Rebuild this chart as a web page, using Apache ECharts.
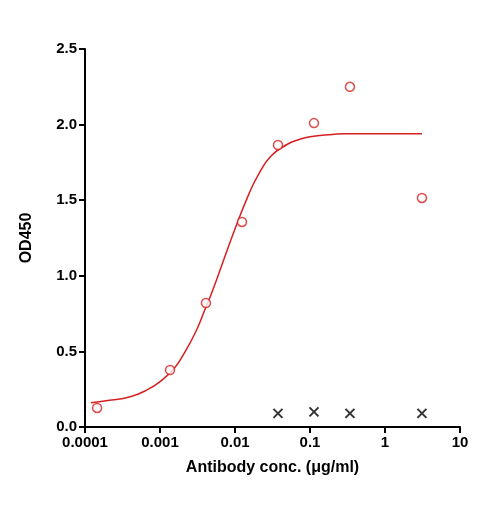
<!DOCTYPE html>
<html><head><meta charset="utf-8">
<script src="https://cdn.jsdelivr.net/npm/echarts@6/dist/echarts.min.js"></script>
<style>html,body{margin:0;padding:0;background:#fff}#c{width:485px;height:508px}</style>
</head><body><div id="c"></div>
<script>
const conc = [0.000145, 0.00136, 0.0041, 0.0124, 0.0374, 0.113, 0.341, 3.11];
const od = [0.126, 0.377, 0.82, 1.356, 1.865, 2.01, 2.25, 1.515];
const negConc = [0.0374, 0.113, 0.341, 3.11];
const negOd = [0.09, 0.10, 0.09, 0.09];
const curveX = [0.00012, 0.0002, 0.0004, 0.0007, 0.001, 0.0015, 0.002, 0.003, 0.004, 0.005, 0.007, 0.01, 0.015, 0.02, 0.03, 0.05, 0.07, 0.1, 0.2, 0.3, 0.5, 1, 3.11];
const curveY = [0.16, 0.175, 0.2, 0.25, 0.3, 0.38, 0.47, 0.63, 0.78, 0.9, 1.1, 1.31, 1.53, 1.66, 1.79, 1.87, 1.9, 1.92, 1.935, 1.94, 1.94, 1.94, 1.94];
const xTicks = [0.0001, 0.001, 0.01, 0.1, 1, 10];
const font = 'Liberation Sans, Arial, sans-serif';
const chart = echarts.init(document.getElementById('c'));
chart.setOption({
  animation: false,
  grid: {left: 85, right: 25, top: 49, bottom: 81},
  xAxis: {
    type: 'log', logBase: 10, min: xTicks[0], max: xTicks[xTicks.length-1],
    name: 'Antibody conc. (μg/ml)', nameLocation: 'middle', nameGap: 33,
    nameTextStyle: {fontFamily: font, fontWeight: 'bold', fontSize: 16, color: '#000'},
    axisLine: {lineStyle: {color: '#000', width: 2}},
    axisTick: {show: true, length: 6, lineStyle: {color: '#000', width: 2}},
    axisLabel: {fontFamily: font, fontWeight: 'bold', fontSize: 15, color: '#000',
      formatter: v => { const r = xTicks.find(t => Math.abs(Math.log10(t) - Math.log10(v)) < 1e-6); return r !== undefined ? String(r) : ''; }},
    splitLine: {show: false}
  },
  yAxis: {
    type: 'value', min: 0, max: 2.5, interval: 0.5,
    name: 'OD450', nameLocation: 'middle', nameGap: 50,
    nameTextStyle: {fontFamily: font, fontWeight: 'bold', fontSize: 16, color: '#000'},
    axisLine: {show: true, lineStyle: {color: '#000', width: 2}},
    axisTick: {show: true, length: 6, lineStyle: {color: '#000', width: 2}},
    axisLabel: {fontFamily: font, fontWeight: 'bold', fontSize: 15, color: '#000', formatter: v => v.toFixed(1)},
    splitLine: {show: false}
  },
  series: [
    {type: 'line', data: curveX.map((x, i) => [x, curveY[i]]), smooth: true, showSymbol: false,
      lineStyle: {color: '#d62020', width: 1.5}, z: 2},
    {type: 'scatter', data: conc.map((x, i) => [x, od[i]]), symbol: 'circle', symbolSize: 9,
      itemStyle: {color: '#fff', borderColor: '#d62020', borderWidth: 1.5}, z: 3},
    {type: 'scatter', data: negConc.map((x, i) => [x, negOd[i]]),
      symbol: 'path://M0,0L10,10M10,0L0,10', symbolSize: 9,
      itemStyle: {color: 'none', borderColor: '#000', borderWidth: 2}, z: 3}
  ]
});
</script></body></html>
